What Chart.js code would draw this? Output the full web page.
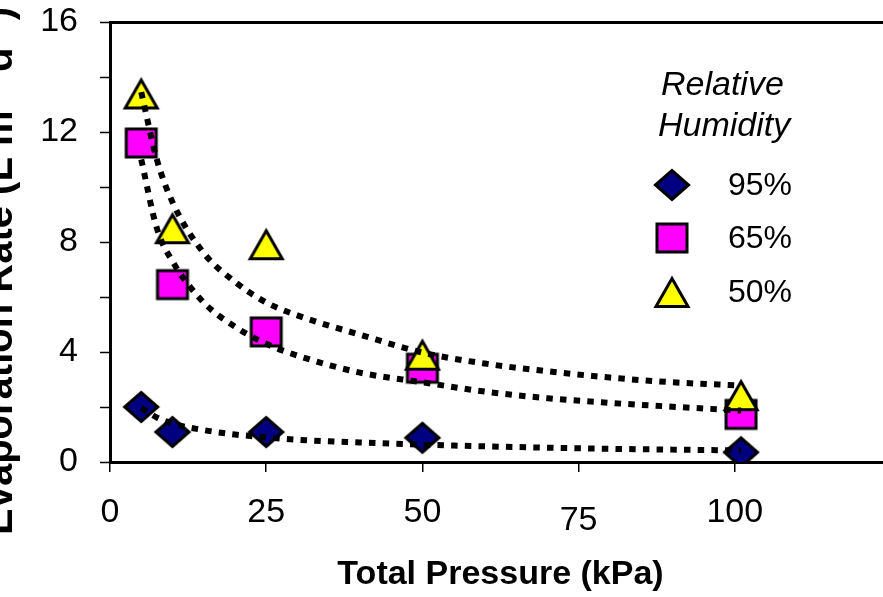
<!DOCTYPE html>
<html lang="en">
<head>
<meta charset="UTF-8">
<title>Evaporation Rate vs Total Pressure</title>
<script src="https://cdn.jsdelivr.net/npm/chart.js@4.4.1/dist/chart.umd.min.js"></script>
<style>
  html, body { margin: 0; padding: 0; background: #fff; overflow: hidden; }
  .wrap { position: relative; width: 891px; height: 597px; }
</style>
</head>
<body>
<div class="wrap"><canvas id="chart" width="891" height="597"></canvas></div>
<script>
const FONT = "'Liberation Sans', Arial, sans-serif";

// measured evaporation rates
const pressures = [5, 10, 25, 50, 101];
const rh95 = [2.0, 1.09, 1.09, 0.88, 0.35];
const rh65 = [11.6, 6.45, 4.73, 3.41, 1.73];
const rh50 = [13.4, 8.5, 7.92, 3.9, 2.43];

// power trendlines, sampled along each curve
const trendX = [5, 7.5, 10, 15, 20, 25, 30, 40, 50, 60, 70, 80, 90, 101];
const trend95 = [1.97, 1.62, 1.40, 1.16, 1.0, 0.9, 0.81, 0.71, 0.63, 0.57, 0.52, 0.48, 0.45, 0.42];
const trend65 = [11.0, 8.5, 7.3, 5.8, 4.92, 4.3, 3.87, 3.25, 2.9, 2.56, 2.32, 2.15, 2.01, 1.87];
const trend50 = [13.45, 11.0, 9.45, 7.6, 6.55, 5.8, 5.33, 4.63, 3.98, 3.58, 3.3, 3.07, 2.9, 2.78];

const seriesLabels = ['95%', '65%', '50%'];
const legendTitle = ['Relative', 'Humidity'];
const xTicks = [0, 25, 50, 75, 100];
const yTicks = [0, 4, 8, 12, 16];
const xTitle = 'Total Pressure (kPa)';
const yTitle = 'Evaporation Rate (L m\u207B\u00B2 d\u207B\u00B9)';

// marker images, outlined in black
function marker(shape, fill) {
  const c = document.createElement('canvas');
  c.width = 42; c.height = 38;
  const g = c.getContext('2d');
  g.translate(21, 19);
  g.beginPath();
  if (shape === 'diamond') {
    g.moveTo(-16.5, 0); g.lineTo(0, -14.5); g.lineTo(16.5, 0); g.lineTo(0, 14.5);
  } else if (shape === 'square') {
    g.rect(-15, -14, 30, 28);
  } else {
    g.moveTo(0, -13.5); g.lineTo(16, 14.5); g.lineTo(-16, 14.5);
  }
  g.closePath();
  g.fillStyle = fill;
  g.fill();
  g.lineWidth = 3;
  g.lineJoin = 'miter';
  g.strokeStyle = '#000';
  g.stroke();
  return c;
}

const markers = [marker('diamond', '#000080'), marker('square', '#FF00FF'), marker('triangle', '#FFFF00')];

const pts = (xs, ys) => xs.map((x, i) => ({ x: x, y: ys[i] }));

function trend(ys) {
  return {
    type: 'line',
    data: pts(trendX, ys),
    borderColor: '#000',
    borderWidth: 6,
    borderDash: [6.5, 7.2],
    borderCapStyle: 'butt',
    pointRadius: 0,
    fill: false,
    cubicInterpolationMode: 'monotone',
    order: 0
  };
}

function series(label, ys, idx) {
  return {
    type: 'scatter',
    label: label,
    data: pts(pressures, ys),
    pointStyle: markers[idx],
    pointRadius: 18,
    showLine: false,
    order: 3 - idx
  };
}

// keep the plot box fixed: no extra room reserved for edge tick labels
function noEdgePadding(s) {
  s.paddingTop = 0;
  s.paddingBottom = 0;
  s.paddingLeft = 0;
  s.paddingRight = 0;
}

// y title sits a little below the axis centre and runs off the left edge,
// legend is drawn inside the plot on the right
const sideTexts = {
  id: 'sideTexts',
  afterDraw(chart) {
    const ctx = chart.ctx;
    ctx.save();
    ctx.fillStyle = '#000';

    ctx.save();
    ctx.translate(12, 271);
    ctx.rotate(-Math.PI / 2);
    ctx.font = 'bold 40px ' + FONT;
    ctx.textAlign = 'center';
    ctx.textBaseline = 'alphabetic';
    ctx.fillText(yTitle, 0, 0);
    ctx.restore();

    ctx.font = 'italic 34px ' + FONT;
    ctx.textAlign = 'left';
    ctx.textBaseline = 'alphabetic';
    ctx.fillText(legendTitle[0], 661, 95);
    ctx.fillText(legendTitle[1], 658, 136);

    ctx.font = '32px ' + FONT;
    ctx.textBaseline = 'middle';
    const rowY = [185, 238, 292];
    seriesLabels.forEach((lbl, i) => {
      const img = markers[i];
      ctx.drawImage(img, 672 - img.width / 2, rowY[i] - img.height / 2);
      ctx.fillText(lbl, 728, rowY[i] + 1);
    });
    ctx.restore();
  }
};

new Chart(document.getElementById('chart'), {
  type: 'scatter',
  data: {
    datasets: [
      trend(trend95), trend(trend65), trend(trend50),
      series(seriesLabels[0], rh95, 0),
      series(seriesLabels[1], rh65, 1),
      series(seriesLabels[2], rh50, 2)
    ]
  },
  options: {
    responsive: false,
    animation: false,
    layout: { autoPadding: false, padding: { top: 22, left: 0, right: 0, bottom: 0 } },
    plugins: {
      legend: { display: false },
      tooltip: { enabled: false }
    },
    scales: {
      x: {
        type: 'linear',
        position: 'bottom',
        min: 0,
        max: 125,
        border: { color: '#000', width: 3 },
        grid: { drawOnChartArea: false, color: '#000', lineWidth: 1.5, tickLength: 10 },
        ticks: {
          stepSize: 25,
          padding: 20,
          color: '#000',
          maxRotation: 0,
          autoSkip: false,
          // the 75 label sits a bit lower than the rest
          font: (c) => ({ family: FONT, size: 34, lineHeight: c.tick && c.tick.value === 75 ? 1.67 : 1.2 }),
          callback: (v) => xTicks.includes(v) ? v : ''
        },
        title: {
          display: true,
          text: xTitle,
          color: '#000',
          font: { family: FONT, size: 34, weight: 'bold' },
          padding: { top: 0, bottom: 2 }
        },
        afterFit: (s) => { s.height = 135; noEdgePadding(s); }
      },
      y: {
        type: 'linear',
        min: 0,
        max: 16,
        border: { color: '#000', width: 3 },
        grid: {
          // only the top line is drawn across the plot
          color: (c) => c.tick && c.tick.value === 16 ? '#000' : 'rgba(0,0,0,0)',
          lineWidth: (c) => c.tick && c.tick.value === 16 ? 3 : 1,
          tickColor: '#000',
          tickWidth: 1.5,
          tickLength: 10
        },
        ticks: {
          stepSize: 2,
          padding: 22,
          color: '#000',
          font: { family: FONT, size: 34 },
          callback: (v) => yTicks.includes(v) ? v : ''
        },
        afterFit: (s) => { s.width = 110; noEdgePadding(s); }
      }
    }
  },
  plugins: [sideTexts]
});
</script>
</body>
</html>
